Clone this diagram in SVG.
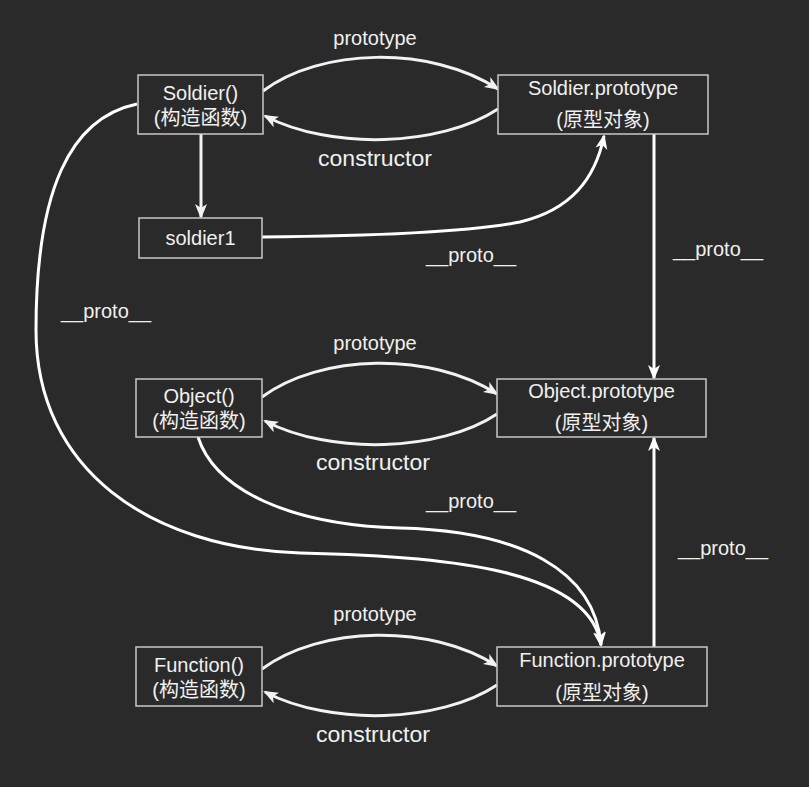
<svg xmlns="http://www.w3.org/2000/svg" width="809" height="787" viewBox="0 0 809 787">
<style>
.bg{fill:#2a2a2a}
.box{fill:#2a2a2a;stroke:#c8c8c8;stroke-width:1.5}
.t{font-family:"Liberation Sans","Noto Sans CJK SC",Arial,sans-serif;font-size:20px;fill:#f0f0f0;text-anchor:middle}
.c{font-size:22px}
.e{fill:none;stroke:#f2f2f2;stroke-width:3}
.w{stroke:#ffffff}
</style>
<defs>
<marker id="ah" markerUnits="userSpaceOnUse" markerWidth="16" markerHeight="14" viewBox="0 0 16 14" refX="13" refY="7" orient="auto">
<path d="M0,1 L15,7 L0,13 L4,7 Z" fill="#f2f2f2"/>
</marker>
<marker id="aw" markerUnits="userSpaceOnUse" markerWidth="16" markerHeight="14" viewBox="0 0 16 14" refX="13" refY="7" orient="auto">
<path d="M0,1 L15,7 L0,13 L4,7 Z" fill="#ffffff"/>
</marker>
</defs>
<rect class="bg" x="0" y="0" width="809" height="787"/>

<g id="connectors">
<path class="e" d="M263,91 C320,48 430,45 498,89" marker-end="url(#ah)"/>
<path class="e" d="M498,109 C440,147 330,150 265,116" marker-end="url(#ah)"/>
<path class="e" d="M201,134 L201,217" marker-end="url(#ah)"/>
<path class="e w" d="M262,237 C380,236 470,232 520,222 C570,210 595,180 604,136" marker-end="url(#aw)"/>
<path class="e w" d="M654,134 L654,378" marker-end="url(#aw)"/>
<path class="e w" d="M137,104 C70,118 36,190 36,330 C36,470 150,548 300,553 C450,556 590,570 601,645" marker-end="url(#aw)"/>
<path class="e" d="M262,397 C320,354 430,351 497,394" marker-end="url(#ah)"/>
<path class="e" d="M497,414 C440,452 330,455 265,421" marker-end="url(#ah)"/>
<path class="e w" d="M198,437 C215,490 290,525 400,528 C520,531 595,570 601,645" marker-end="url(#aw)"/>
<path class="e w" d="M654,647 L654,438" marker-end="url(#aw)"/>
<path class="e" d="M262,669 C320,626 430,623 497,666" marker-end="url(#ah)"/>
<path class="e" d="M497,685 C440,723 330,726 265,692" marker-end="url(#ah)"/>
</g>

<g id="labels">
<text class="t" x="375" y="45">prototype</text>
<text class="t c" x="375" y="166" textLength="114" lengthAdjust="spacingAndGlyphs">constructor</text>
<text class="t" x="471" y="262">__proto__</text>
<text class="t" x="718" y="256">__proto__</text>
<text class="t" x="106" y="318">__proto__</text>
<text class="t" x="375" y="350">prototype</text>
<text class="t c" x="373" y="470" textLength="114" lengthAdjust="spacingAndGlyphs">constructor</text>
<text class="t" x="471" y="508">__proto__</text>
<text class="t" x="723" y="555">__proto__</text>
<text class="t" x="375" y="621">prototype</text>
<text class="t c" x="373" y="742" textLength="114" lengthAdjust="spacingAndGlyphs">constructor</text>
</g>

<g id="soldier-ctor">
<rect class="box" x="138" y="75" width="125" height="59"/>
<text class="t" x="200.5" y="100">Soldier()</text>
<text class="t" x="200.5" y="125">(构造函数)</text>
</g>
<g id="soldier-proto">
<rect class="box" x="498" y="75" width="210" height="59"/>
<text class="t" x="603" y="95">Soldier.prototype</text>
<text class="t" x="603" y="127">(原型对象)</text>
</g>
<g id="soldier1">
<rect class="box" x="139" y="218" width="123" height="40"/>
<text class="t" x="200.5" y="245">soldier1</text>
</g>
<g id="object-ctor">
<rect class="box" x="136" y="379" width="126" height="58"/>
<text class="t" x="199" y="403">Object()</text>
<text class="t" x="199" y="428">(构造函数)</text>
</g>
<g id="object-proto">
<rect class="box" x="497" y="379" width="209" height="58"/>
<text class="t" x="601.5" y="398">Object.prototype</text>
<text class="t" x="601.5" y="430">(原型对象)</text>
</g>
<g id="function-ctor">
<rect class="box" x="136" y="647" width="126" height="59"/>
<text class="t" x="199" y="672">Function()</text>
<text class="t" x="199" y="697">(构造函数)</text>
</g>
<g id="function-proto">
<rect class="box" x="497" y="647" width="210" height="59"/>
<text class="t" x="602" y="667">Function.prototype</text>
<text class="t" x="602" y="700">(原型对象)</text>
</g>
</svg>
